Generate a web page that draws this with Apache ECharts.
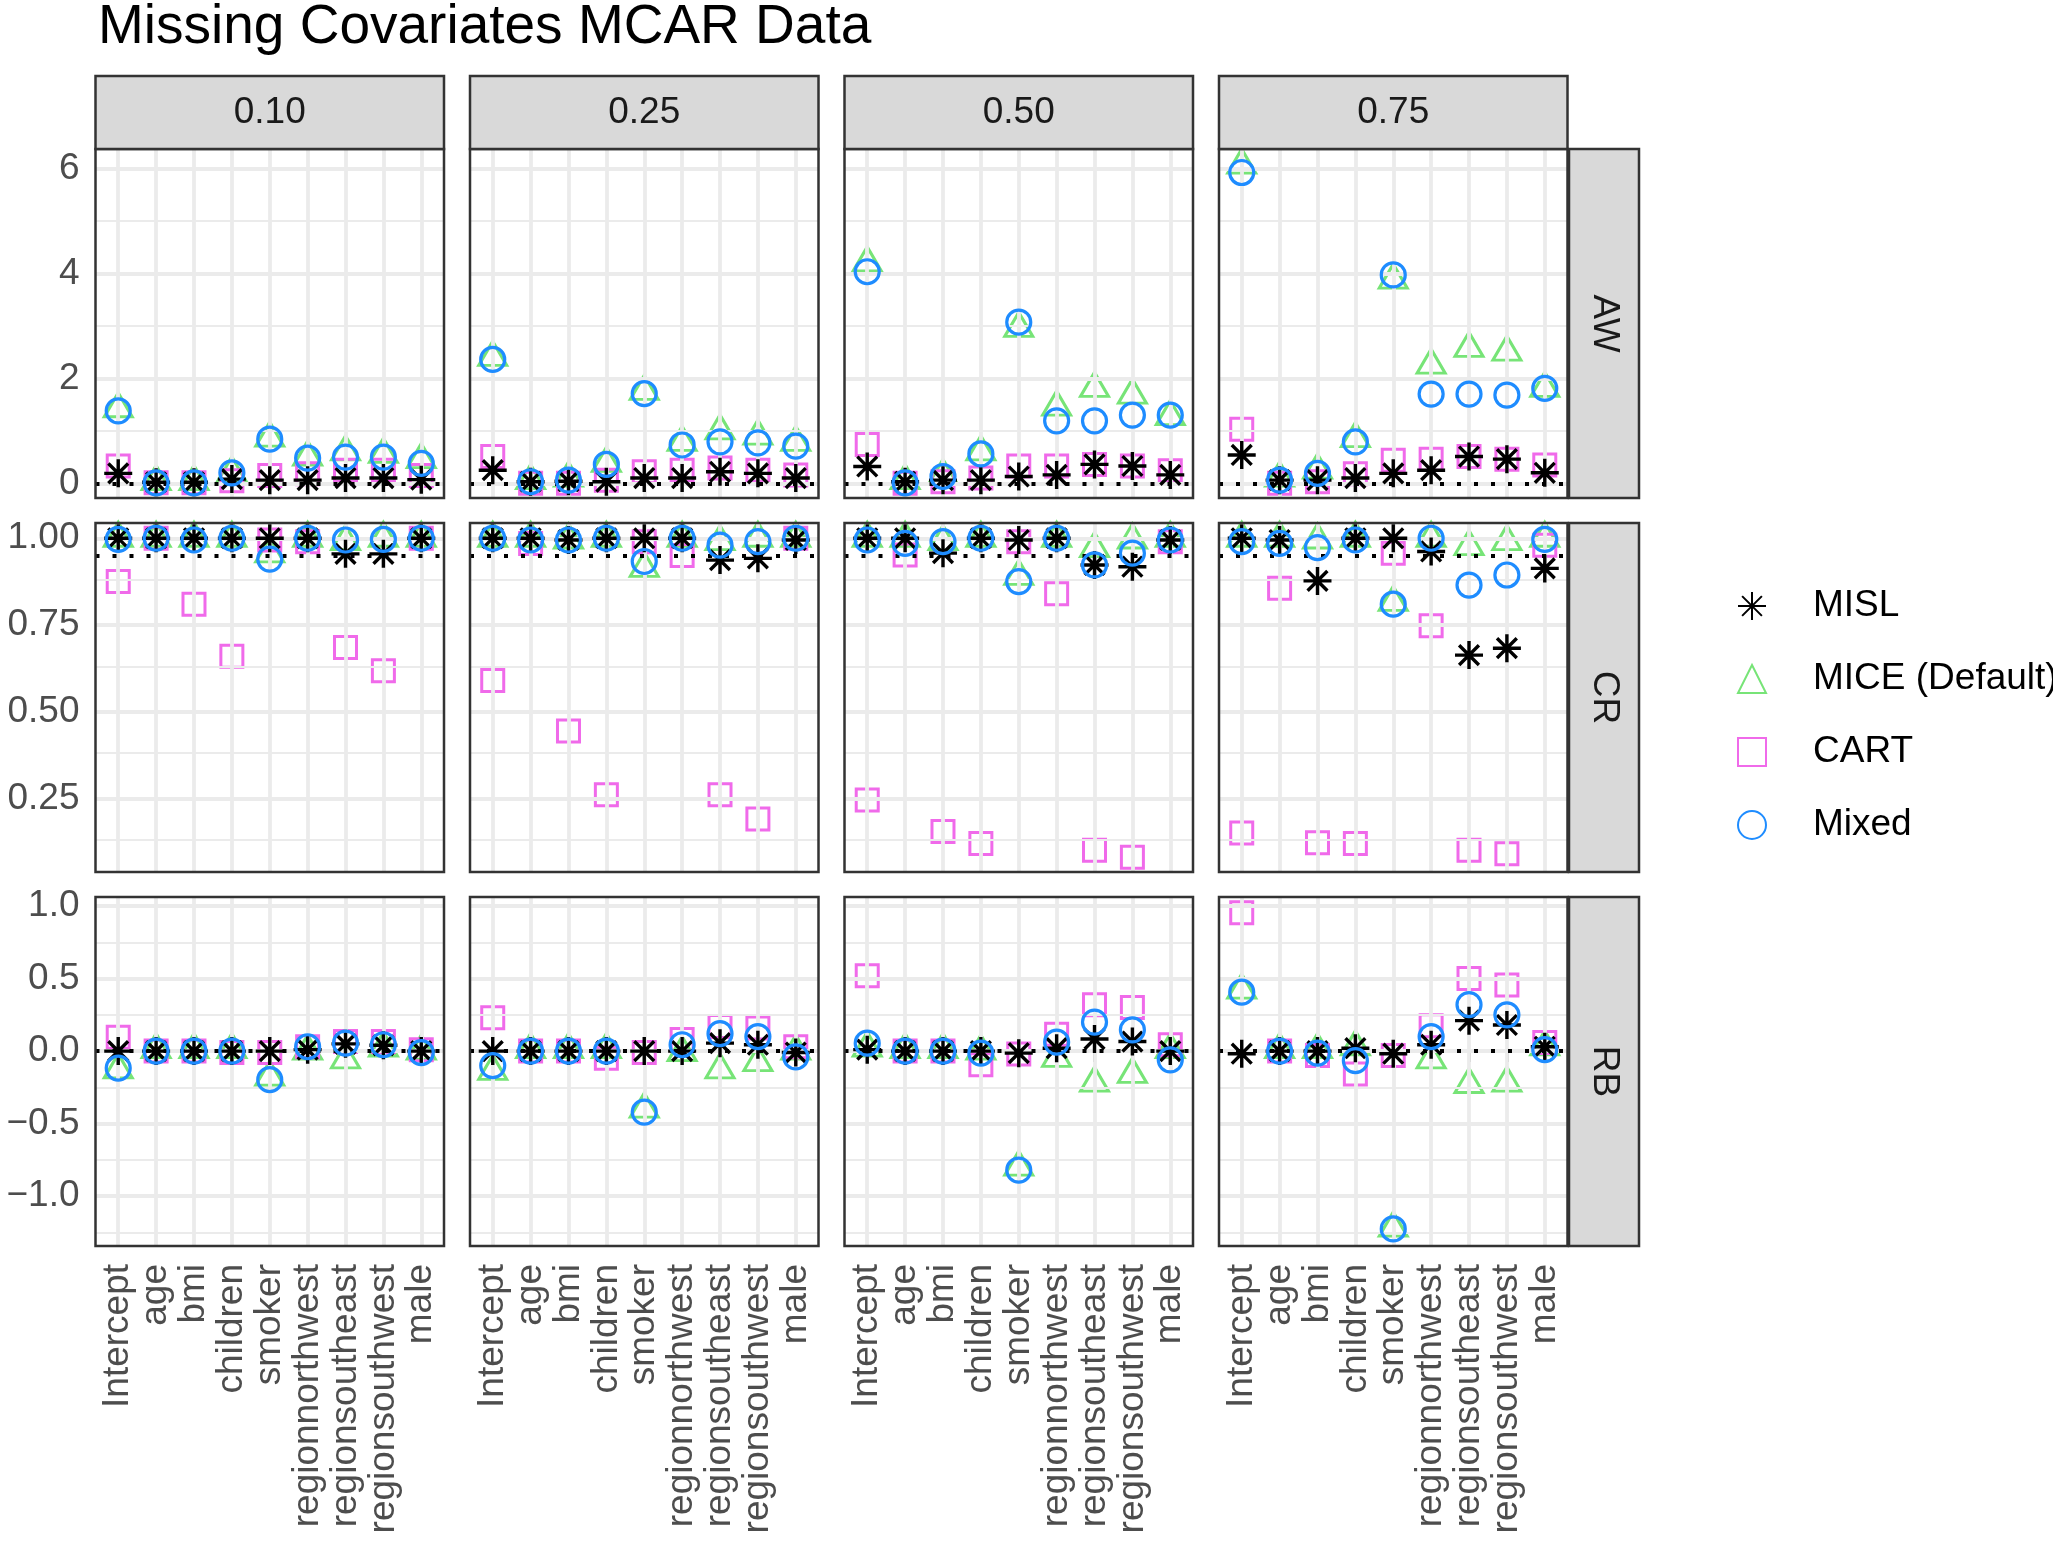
<!DOCTYPE html>
<html>
<head>
<meta charset="utf-8">
<script src="https://cdn.jsdelivr.net/npm/echarts@6/dist/echarts.min.js"></script>
<style>html,body{margin:0;padding:0;background:#fff}#main{width:2053px;height:1542px}</style>
</head>
<body>
<div id="main"></div>
<script>
// 类别与分面
var covariates = ['Intercept', 'age', 'bmi', 'children', 'smoker', 'regionnorthwest', 'regionsoutheast', 'regionsouthwest', 'male'];
var missingRates = ['0.10', '0.25', '0.50', '0.75'];
var metrics = ['AW', 'CR', 'RB'];
var methods = ['MISL', 'MICE (Default)', 'CART', 'Mixed'];

// AW: 每行一个缺失比例
var awMISL = [
    [0.19, 0.02, 0.02, 0.08, 0.06, 0.06, 0.10, 0.10, 0.07],
    [0.25, 0.03, 0.04, 0.03, 0.10, 0.10, 0.22, 0.19, 0.10],
    [0.32, 0.03, 0.06, 0.06, 0.13, 0.16, 0.36, 0.33, 0.16],
    [0.54, 0.06, 0.06, 0.10, 0.19, 0.25, 0.51, 0.46, 0.20]
];
var awMICE = [
    [1.42, 0.03, 0.03, 0.20, 0.86, 0.50, 0.60, 0.55, 0.45],
    [2.40, 0.05, 0.10, 0.38, 1.75, 0.78, 1.00, 0.90, 0.78],
    [4.20, 0.05, 0.15, 0.60, 2.95, 1.45, 1.81, 1.68, 1.27],
    [6.06, 0.10, 0.25, 0.85, 3.87, 2.25, 2.57, 2.50, 1.81]
];
var awCART = [
    [0.33, 0.01, 0.01, 0.05, 0.15, 0.18, 0.25, 0.25, 0.15],
    [0.51, 0.00, 0.00, 0.06, 0.22, 0.25, 0.29, 0.25, 0.16],
    [0.74, 0.00, 0.03, 0.10, 0.33, 0.33, 0.36, 0.33, 0.24],
    [1.03, 0.00, 0.03, 0.18, 0.44, 0.46, 0.51, 0.46, 0.35]
];
var awMixed = [
    [1.38, 0.01, 0.01, 0.20, 0.84, 0.48, 0.50, 0.50, 0.38],
    [2.36, 0.03, 0.06, 0.36, 1.71, 0.73, 0.79, 0.77, 0.71],
    [4.03, 0.01, 0.13, 0.56, 3.07, 1.19, 1.19, 1.30, 1.30],
    [5.92, 0.06, 0.19, 0.79, 3.97, 1.70, 1.70, 1.68, 1.81]
];

// CR
var crMISL = [
    [1.000, 1.000, 1.000, 1.000, 1.000, 1.000, 0.955, 0.955, 1.000],
    [1.000, 1.000, 0.995, 1.000, 1.000, 1.000, 0.937, 0.942, 0.995],
    [1.000, 1.000, 0.957, 1.000, 0.995, 1.000, 0.923, 0.918, 0.995],
    [1.000, 0.995, 0.877, 1.000, 1.000, 0.962, 0.663, 0.683, 0.913]
];
var crMICE = [
    [1.000, 1.000, 1.000, 1.000, 0.955, 1.000, 0.990, 1.000, 1.000],
    [1.000, 1.000, 0.995, 1.000, 0.913, 1.000, 0.990, 1.000, 1.000],
    [1.000, 1.000, 0.990, 1.000, 0.890, 1.000, 0.970, 0.995, 1.000],
    [1.000, 1.000, 0.995, 1.000, 0.815, 1.000, 0.976, 0.990, 1.000]
];
var crCART = [
    [0.875, 1.000, 0.810, 0.660, 0.995, 0.990, 0.685, 0.618, 1.000],
    [0.590, 0.985, 0.444, 0.260, 0.990, 0.950, 0.260, 0.190, 1.000],
    [0.245, 0.952, 0.154, 0.120, 0.990, 0.840, 0.100, 0.080, 0.990],
    [0.150, 0.856, 0.122, 0.120, 0.957, 0.748, 0.100, 0.090, 0.980]
];
var crMixed = [
    [0.997, 1.000, 0.995, 1.000, 0.940, 1.000, 0.995, 0.997, 1.000],
    [1.000, 0.995, 0.995, 1.000, 0.933, 1.000, 0.980, 0.990, 1.000],
    [0.995, 0.985, 0.990, 1.000, 0.875, 1.000, 0.923, 0.957, 0.995],
    [0.990, 0.985, 0.973, 0.995, 0.810, 1.000, 0.865, 0.894, 0.997]
];

// RB
var rbMISL = [
    [0.000, 0.000, 0.000, 0.000, 0.000, 0.010, 0.050, 0.040, 0.000],
    [0.000, 0.000, 0.000, 0.000, 0.000, 0.000, 0.055, 0.044, -0.010],
    [0.010, 0.000, 0.000, 0.000, -0.014, 0.020, 0.083, 0.066, 0.000],
    [-0.018, 0.000, 0.000, 0.020, -0.018, 0.044, 0.210, 0.180, 0.030]
];
var rbMICE = [
    [-0.130, 0.010, 0.010, 0.010, -0.180, 0.000, -0.060, 0.020, 0.000],
    [-0.140, 0.010, 0.010, 0.010, -0.400, -0.010, -0.130, -0.080, 0.000],
    [0.020, 0.010, 0.010, 0.000, -0.800, -0.050, -0.220, -0.160, 0.010],
    [0.420, 0.010, 0.010, 0.030, -1.220, -0.060, -0.230, -0.220, 0.030]
];
var rbCART = [
    [0.096, 0.000, 0.000, -0.010, -0.010, 0.030, 0.066, 0.066, 0.010],
    [0.230, 0.000, 0.000, -0.050, -0.010, 0.080, 0.170, 0.160, 0.030],
    [0.520, 0.000, 0.000, -0.094, -0.020, 0.117, 0.320, 0.300, 0.044],
    [0.954, 0.000, -0.030, -0.158, -0.030, 0.174, 0.500, 0.456, 0.060]
];
var rbMixed = [
    [-0.117, 0.000, 0.000, 0.000, -0.197, 0.030, 0.055, 0.044, -0.010],
    [-0.100, 0.000, 0.000, 0.000, -0.420, 0.044, 0.120, 0.100, -0.040],
    [0.055, 0.000, 0.000, -0.014, -0.820, 0.062, 0.200, 0.147, -0.060],
    [0.406, 0.000, -0.014, -0.066, -1.225, 0.100, 0.320, 0.250, 0.010]
];

// 坐标轴刻度
var yRange = [[-0.28, 6.368], [0.0375, 1.044], [-1.343, 1.062]];
var yMajor = [[0, 2, 4, 6], [0.25, 0.5, 0.75, 1], [-1, -0.5, 0, 0.5, 1]];
var yMinor = [[1, 3, 5], [0.125, 0.375, 0.625, 0.875], [-1.25, -0.75, -0.25, 0.25, 0.75]];
var refLine = [0, 0.95, 0];

var metricData = [
    [awMISL, awMICE, awCART, awMixed],
    [crMISL, crMICE, crCART, crMixed],
    [rbMISL, rbMICE, rbCART, rbMixed]
];

// 布局
var panelLeft = [95.5, 470, 844.5, 1219];
var panelTop = [149, 523, 897];
var panelW = 348.5, panelH = 349;
var FONT = "'Liberation Sans', Arial, Helvetica, sans-serif";

var ASTERISK = 'path://M0,-10L0,10M-10,0L10,0M-7.07,-7.07L7.07,7.07M-7.07,7.07L7.07,-7.07';
var methodStyle = [
    {symbol: ASTERISK, size: 28, color: '#000000', z: 5, fill: '#000000', width: 3.4},
    {symbol: 'triangle', size: [28, 24], color: '#77E477', z: 3, fill: 'rgba(0,0,0,0)', width: 3, offset: [0, -4]},
    {symbol: 'rect', size: 22, color: '#F06AEA', z: 4, fill: 'rgba(0,0,0,0)', width: 3},
    {symbol: 'circle', size: 24, color: '#1E8CFF', z: 6, fill: 'rgba(0,0,0,0)', width: 3.2}
];

function fmtY(r, v) {
    var s;
    if (r === 0) s = String(v);
    else if (r === 1) s = v.toFixed(2);
    else s = v.toFixed(1);
    return s.replace('-', '\u2212');
}

var grids = [], xAxes = [], yAxes = [], series = [], graphics = [];
var idx = [0, 1, 2, 3, 4, 5, 6, 7, 8];

for (var r = 0; r < 3; r++) {
    for (var c = 0; c < 4; c++) {
        var g = r * 4 + c;
        grids.push({left: panelLeft[c], top: panelTop[r], width: panelW, height: panelH, show: false});
        var bottom = (r === 2), leftCol = (c === 0);
        xAxes.push({
            type: 'value', gridIndex: g, min: -0.6, max: 8.6,
            axisLine: {show: false},
            splitLine: {show: false},
            axisTick: {show: bottom, customValues: idx, length: 11, lineStyle: {color: '#333333', width: 2.5}},
            axisLabel: {
                show: bottom, customValues: idx, rotate: 90, margin: 18,
                color: '#4D4D4D', fontSize: 37, fontFamily: FONT,
                formatter: function (v) { return covariates[v]; }
            }
        });
        yAxes.push({
            type: 'value', gridIndex: g, min: yRange[r][0], max: yRange[r][1],
            axisLine: {show: false},
            splitLine: {show: false},
            axisTick: {show: leftCol, customValues: yMajor[r], length: 11, lineStyle: {color: '#333333', width: 2.5}},
            axisLabel: {
                show: leftCol, customValues: yMajor[r], margin: 16,
                color: '#4D4D4D', fontSize: 37, fontFamily: FONT,
                formatter: (function (rr) { return function (v) { return fmtY(rr, v); }; })(r)
            }
        });

        // 网格线
        var gl = [];
        yMinor[r].forEach(function (v) { gl.push({yAxis: v, lineStyle: {color: '#EBEBEB', width: 1.8, type: 'solid'}}); });
        yMajor[r].forEach(function (v) { gl.push({yAxis: v, lineStyle: {color: '#EBEBEB', width: 3.8, type: 'solid'}}); });
        idx.forEach(function (v) { gl.push({xAxis: v, lineStyle: {color: '#EBEBEB', width: 3.8, type: 'solid'}}); });
        series.push({
            type: 'scatter', name: 'grid' + g, xAxisIndex: g, yAxisIndex: g, data: [], silent: true, z: 1,
            markLine: {silent: true, symbol: ['none', 'none'], label: {show: false}, animation: false, data: gl}
        });
        // 参考线
        series.push({
            type: 'scatter', name: 'ref' + g, xAxisIndex: g, yAxisIndex: g, data: [], silent: true, z: 2,
            markLine: {
                silent: true, symbol: ['none', 'none'], label: {show: false}, animation: false,
                data: [{yAxis: refLine[r], lineStyle: {color: '#000000', width: 4, type: [4, 13], cap: 'butt'}}]
            }
        });

        for (var m = 0; m < 4; m++) {
            var st = methodStyle[m];
            var vals = metricData[r][m][c];
            series.push({
                type: 'scatter', name: methods[m], xAxisIndex: g, yAxisIndex: g,
                symbol: st.symbol, symbolSize: st.size, symbolOffset: st.offset || [0, 0],
                z: st.z, clip: false,
                itemStyle: {color: st.fill, borderColor: st.color, borderWidth: st.width, opacity: 1},
                emphasis: {disabled: true},
                data: vals.map(function (v, i) { return [i, v]; })
            });
        }

        // 面板边框
        graphics.push({
            type: 'rect', z: 100,
            shape: {x: panelLeft[c], y: panelTop[r], width: panelW, height: panelH},
            style: {fill: 'none', stroke: '#333333', lineWidth: 2.5}
        });
    }
}

// 分面标签
for (var c2 = 0; c2 < 4; c2++) {
    graphics.push({
        type: 'rect', z: 100,
        shape: {x: panelLeft[c2], y: 76, width: panelW, height: 73},
        style: {fill: '#D9D9D9', stroke: '#333333', lineWidth: 2.5}
    });
    graphics.push({
        type: 'text', z: 101, x: panelLeft[c2] + panelW / 2, y: 113,
        style: {text: missingRates[c2], font: '37px ' + FONT, fill: '#1A1A1A', align: 'center', verticalAlign: 'middle'}
    });
}
for (var r2 = 0; r2 < 3; r2++) {
    graphics.push({
        type: 'rect', z: 100,
        shape: {x: 1569, y: panelTop[r2], width: 70, height: panelH},
        style: {fill: '#D9D9D9', stroke: '#333333', lineWidth: 2.5}
    });
    graphics.push({
        type: 'text', z: 101, x: 1604, y: panelTop[r2] + panelH / 2, rotation: -Math.PI / 2,
        style: {text: metrics[r2], font: '37px ' + FONT, fill: '#1A1A1A', align: 'center', verticalAlign: 'middle'}
    });
}

var chart = echarts.init(document.getElementById('main'));
chart.setOption({
    animation: false,
    backgroundColor: '#ffffff',
    title: {
        text: 'Missing Covariates MCAR Data', left: 93, top: -5,
        textStyle: {fontSize: 55, fontWeight: 'normal', color: '#000000', fontFamily: FONT}
    },
    legend: {
        data: methods, orient: 'vertical', left: 1732, top: 579,
        itemWidth: 28, itemHeight: 28, itemGap: 29,
        textStyle: {fontSize: 37, color: '#000000', fontFamily: FONT, lineHeight: 44, padding: [0, 0, 0, 42]}
    },
    grid: grids,
    xAxis: xAxes,
    yAxis: yAxes,
    series: series,
    graphic: {elements: graphics}
});
</script>
</body>
</html>
